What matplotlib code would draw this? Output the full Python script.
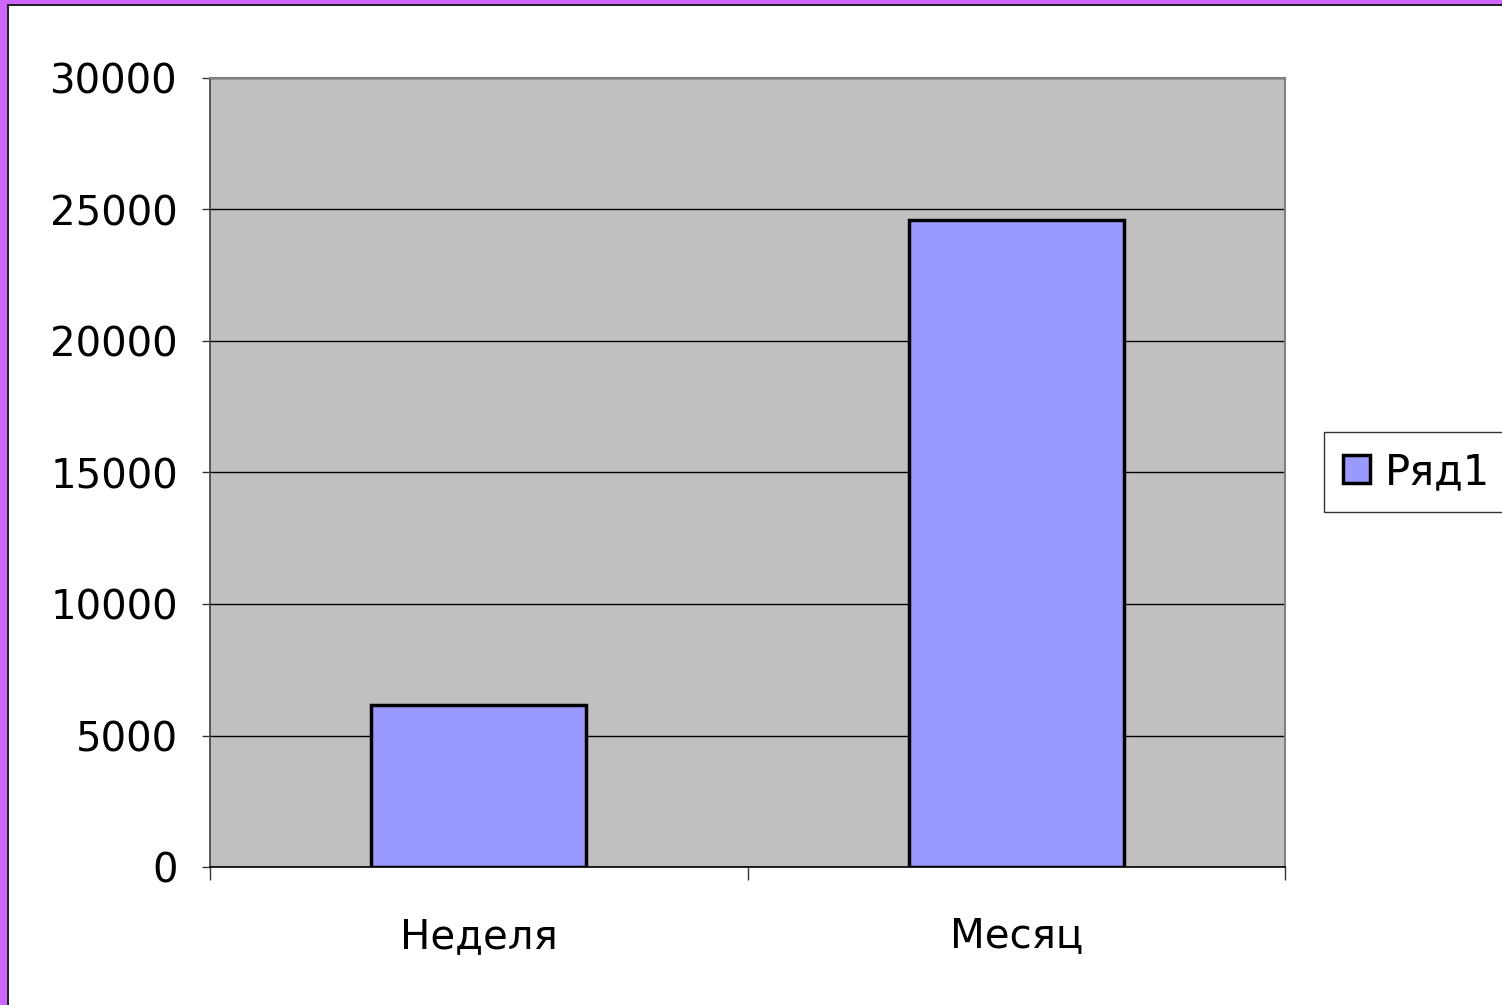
import numpy as np
import matplotlib
matplotlib.use("Agg")
from matplotlib import pyplot as plt
from matplotlib.patches import Rectangle

# data
categories = ["Неделя", "Месяц"]
values = [6150, 24600]
series_name = "Ряд1"
yticks = [0, 5000, 10000, 15000, 20000, 25000, 30000]

plt.rcParams['font.family'] = ['DejaVu Sans']

fig = plt.figure(figsize=(15.02, 10.05), dpi=100)
fig.patch.set_facecolor("white")

# purple frame on top and left
fig.patches.append(Rectangle((0, 1 - 4/1005), 1, 4/1005, transform=fig.transFigure,
                             facecolor="#CC66FF", edgecolor="none", zorder=0))
fig.patches.append(Rectangle((0, 1 - 6/1005), 1, 2/1005, transform=fig.transFigure,
                             facecolor="#222222", edgecolor="none", zorder=0))
fig.patches.append(Rectangle((0, 0), 7/1502, 1, transform=fig.transFigure,
                             facecolor="#CC66FF", edgecolor="none", zorder=0))
fig.patches.append(Rectangle((7/1502, 0), 2/1502, 1 - 4/1005, transform=fig.transFigure,
                             facecolor="#222222", edgecolor="none", zorder=0))

ax = fig.add_axes([210/1502, 1 - 867/1005, 1075/1502, 789/1005])
ax.set_facecolor("#C0C0C0")

x = np.arange(len(categories))
bars = ax.bar(x, values, width=0.4, color="#9999FF", edgecolor="black",
              linewidth=2.5, zorder=3, label=series_name)

ax.set_xlim(-0.5, len(categories) - 0.5)
ax.set_ylim(0, 30000)
ax.set_yticks(yticks)
ax.set_yticklabels([str(t) for t in yticks], fontsize=29)
ax.yaxis.grid(True, color="black", linewidth=1.0, zorder=1)
ax.set_axisbelow(True)

# x ticks at category boundaries, labels at centers
ax.set_xticks(np.arange(len(categories) + 1) - 0.5)
ax.set_xticklabels([""] * (len(categories) + 1))
ax.set_xticks(x, minor=True)
ax.set_xticklabels(categories, minor=True, fontsize=29)
ax.tick_params(axis="x", which="major", direction="out", length=9, width=1, color="#333333")
ax.tick_params(axis="x", which="minor", length=0, pad=36)
ax.tick_params(axis="y", direction="out", length=6, width=1, color="#333333", pad=17)

for s in ["top", "right"]:
    ax.spines[s].set_color("#808080")
    ax.spines[s].set_linewidth(1.5)
ax.spines["left"].set_color("#404040")
ax.spines["bottom"].set_color("black")
ax.spines["left"].set_linewidth(1.2)
ax.spines["bottom"].set_linewidth(1.2)

leg = fig.legend(handles=[bars], labels=[series_name], loc="center left",
                 bbox_to_anchor=(1324/1502, 1 - 472/1005), fontsize=30,
                 frameon=True, fancybox=False, edgecolor="black",
                 handlelength=0.65, handleheight=0.65, handletextpad=0.35,
                 borderpad=0.45, borderaxespad=0)
leg.get_frame().set_linewidth(1.0)

fig.savefig("out.png", dpi=100, facecolor="white")
